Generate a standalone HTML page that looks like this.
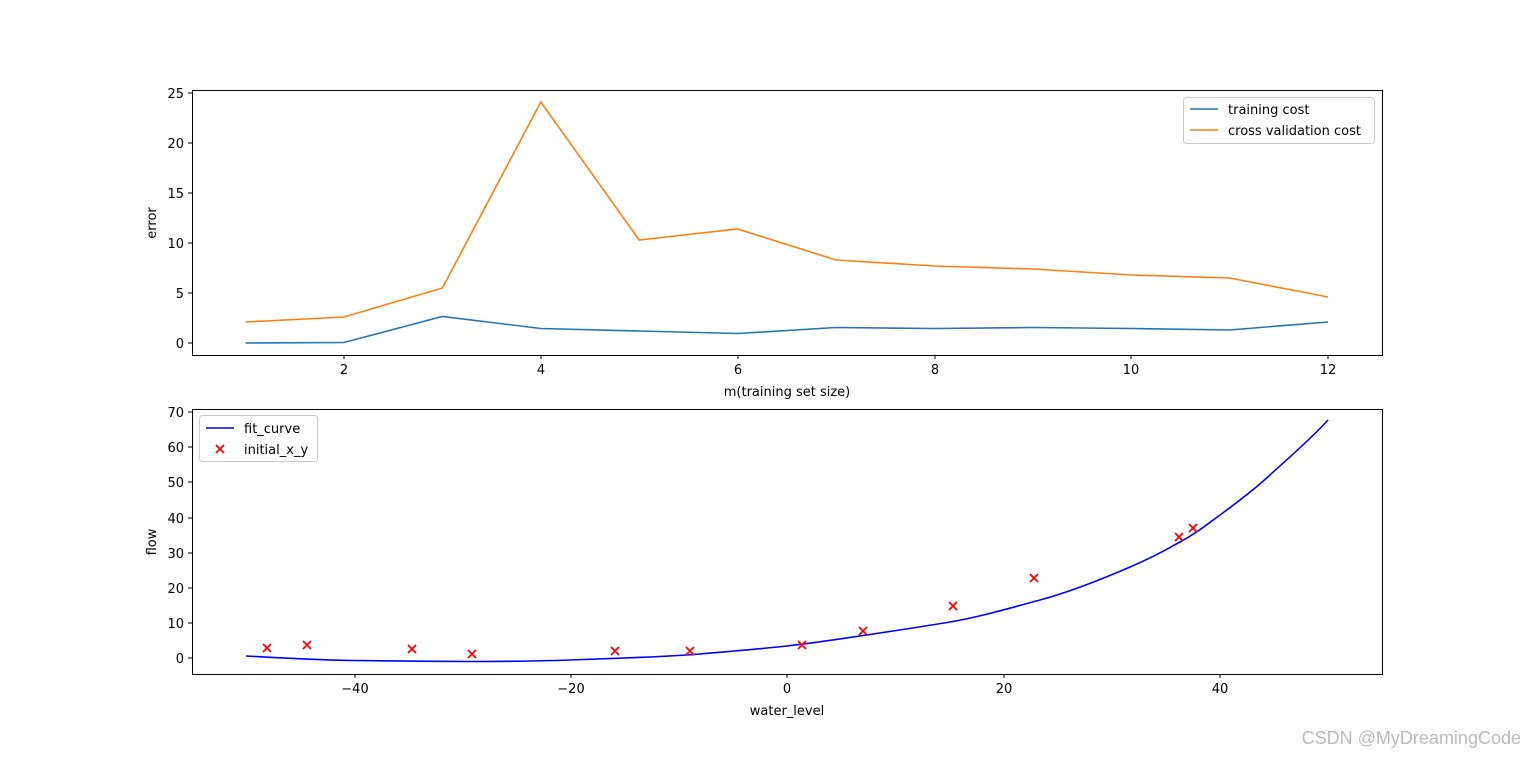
<!DOCTYPE html>
<html><head><meta charset="utf-8"><style>
body{margin:0;background:#fff;}
svg text{font-family:"DejaVu Sans","Liberation Sans",sans-serif;font-size:13px;fill:#000;}
</style></head><body>
<svg width="1536" height="757" viewBox="0 0 1536 757" xmlns="http://www.w3.org/2000/svg">
<rect width="1536" height="757" fill="#fff"/>
<!-- Top axes -->
<g>
<polyline fill="none" stroke="#1f77b4" stroke-width="1.6" points="245.6,343 344,342.5 442.4,316.5 540.8,328.5 639.2,331 737.6,333.5 836,327.5 934.4,328.5 1032.8,327.5 1131.2,328.5 1229.6,330 1328,322"/>
<polyline fill="none" stroke="#ff7f0e" stroke-width="1.6" points="245.6,322 344,317 442.4,288 540.8,102 639.2,240 737.6,229 836,260 934.4,266 1032.8,269 1131.2,275 1229.6,278 1328,297"/>
<rect x="192.5" y="90.5" width="1190" height="265" fill="none" stroke="#000" stroke-width="1"/>
<g stroke="#000">
<line x1="344" y1="355" x2="344" y2="359"/><line x1="541" y1="355" x2="541" y2="359"/><line x1="738" y1="355" x2="738" y2="359"/><line x1="935" y1="355" x2="935" y2="359"/><line x1="1131" y1="355" x2="1131" y2="359"/><line x1="1328" y1="355" x2="1328" y2="359"/>
<line x1="188" y1="343" x2="192" y2="343"/><line x1="188" y1="293" x2="192" y2="293"/><line x1="188" y1="243" x2="192" y2="243"/><line x1="188" y1="193" x2="192" y2="193"/><line x1="188" y1="143" x2="192" y2="143"/><line x1="188" y1="93" x2="192" y2="93"/>
</g>
<g text-anchor="middle">
<text x="344" y="374">2</text><text x="541" y="374">4</text><text x="738" y="374">6</text><text x="935" y="374">8</text><text x="1131" y="374">10</text><text x="1328" y="374">12</text>
<text x="787" y="396">m(training set size)</text>
</g>
<g text-anchor="end">
<text x="184" y="348">0</text><text x="184" y="298">5</text><text x="184" y="248">10</text><text x="184" y="198">15</text><text x="184" y="148">20</text><text x="184" y="98">25</text>
</g>
<text transform="translate(156,223) rotate(-90)" text-anchor="middle">error</text>
<rect x="1183.5" y="97.5" width="191" height="46" rx="3" fill="#fff" stroke="#ccc"/>
<line x1="1190" y1="109" x2="1218" y2="109" stroke="#1f77b4" stroke-width="1.6"/>
<line x1="1190" y1="130" x2="1218" y2="130" stroke="#ff7f0e" stroke-width="1.6"/>
<text x="1228" y="114">training cost</text>
<text x="1228" y="135">cross validation cost</text>
</g>
<!-- Bottom axes -->
<g>
<path fill="none" stroke="#0000ff" stroke-width="1.6" d="M246,656 C300,659 330,660.5 355,660.5 S430,661.5 470,661.5 S540,661 570,660 S630,658 650,657 S690,655 700,654 S760,649 787,646 S840,639 860,636 S920,627 950,622 S1010,608 1040,600 S1100,580 1130,567 S1165,550 1180,542 S1205,526 1220,515 S1255,489 1270,475 S1310,440 1328,420"/>
<g stroke="#ff0000" stroke-width="1.8">
<path d="M263,644l8,8M271,644l-8,8M303,641l8,8M311,641l-8,8M408,645l8,8M416,645l-8,8M468,650l8,8M476,650l-8,8M611,647l8,8M619,647l-8,8M686,647l8,8M694,647l-8,8M798,641l8,8M806,641l-8,8M859,627l8,8M867,627l-8,8M949,602l8,8M957,602l-8,8M1030,574l8,8M1038,574l-8,8M1175,533l8,8M1183,533l-8,8M1189,524l8,8M1197,524l-8,8"/>
</g>
<rect x="192.5" y="409.5" width="1190" height="265" fill="none" stroke="#000" stroke-width="1"/>
<g stroke="#000">
<line x1="355" y1="674" x2="355" y2="678"/><line x1="571" y1="674" x2="571" y2="678"/><line x1="787" y1="674" x2="787" y2="678"/><line x1="1004" y1="674" x2="1004" y2="678"/><line x1="1220" y1="674" x2="1220" y2="678"/>
<line x1="188" y1="658" x2="192" y2="658"/><line x1="188" y1="623" x2="192" y2="623"/><line x1="188" y1="588" x2="192" y2="588"/><line x1="188" y1="553" x2="192" y2="553"/><line x1="188" y1="518" x2="192" y2="518"/><line x1="188" y1="482" x2="192" y2="482"/><line x1="188" y1="447" x2="192" y2="447"/><line x1="188" y1="412" x2="192" y2="412"/>
</g>
<g text-anchor="middle">
<text x="355" y="693">−40</text><text x="571" y="693">−20</text><text x="787" y="693">0</text><text x="1004" y="693">20</text><text x="1220" y="693">40</text>
<text x="787" y="715">water_level</text>
</g>
<g text-anchor="end">
<text x="184" y="663">0</text><text x="184" y="628">10</text><text x="184" y="593">20</text><text x="184" y="558">30</text><text x="184" y="523">40</text><text x="184" y="487">50</text><text x="184" y="452">60</text><text x="184" y="417">70</text>
</g>
<text transform="translate(156,542) rotate(-90)" text-anchor="middle">flow</text>
<rect x="199.5" y="415.5" width="118" height="46" rx="3" fill="#fff" stroke="#ccc"/>
<line x1="206" y1="428" x2="234" y2="428" stroke="#0000ff" stroke-width="1.6"/>
<path d="M216,445l8,8M224,445l-8,8" stroke="#ff0000" stroke-width="1.8"/>
<text x="244" y="433">fit_curve</text>
<text x="244" y="454">initial_x_y</text>
</g>
<text x="1521" y="744" text-anchor="end" style="font-size:18px;fill:#bbb;font-family:'Liberation Sans',sans-serif">CSDN @MyDreamingCode</text>
</svg>
</body></html>
